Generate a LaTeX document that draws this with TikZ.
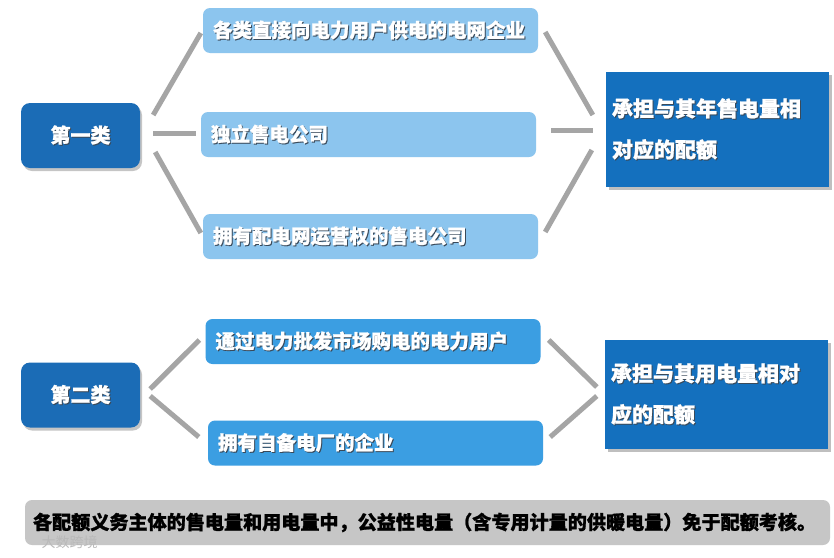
\documentclass[tikz,border=0pt]{standalone}
\usepackage{fontspec}
\setmainfont{Noto Sans CJK SC}[BoldFeatures={FakeBold=1.2}]
\usetikzlibrary{shadows}
\definecolor{darkbox}{HTML}{1B6CB6}
\definecolor{rightbox}{HTML}{1470BE}
\definecolor{lightbox}{HTML}{8CC5EE}
\definecolor{midbox}{HTML}{3B9EE2}
\definecolor{conn}{HTML}{A5A5A5}
\definecolor{barc}{HTML}{C6C6C6}
\definecolor{halo}{HTML}{3A4A5A}
\newcommand{\sht}[1]{\makebox[0pt][l]{\raisebox{-1pt}{\hspace{1pt}\textcolor{halo}{#1}}}\textcolor{white}{#1}}
\tikzset{
  catbox/.style={fill=darkbox, rounded corners=9pt, minimum width=119pt, minimum height=65pt,
    drop shadow={shadow xshift=2pt, shadow yshift=-3pt, opacity=0.45}, font=\fontsize{20}{24}\selectfont\bfseries},
  itembox/.style={rounded corners=7pt, minimum width=335pt, minimum height=45pt, text width=315pt,
    inner xsep=10pt, align=left, font=\fontsize{19.5}{24}\selectfont\bfseries},
  resbox/.style={fill=rightbox, minimum width=223pt, minimum height=115pt, text width=211pt,
    inner xsep=6pt, align=left, drop shadow={shadow xshift=3pt, shadow yshift=-3pt, opacity=0.5},
    font=\fontsize{21}{41}\selectfont\bfseries},
  link/.style={draw=conn, line width=5pt},
}
\begin{document}
\begin{tikzpicture}[x=1pt,y=-1pt]
\useasboundingbox[fill=white] (0,0) rectangle (834,557);
% first group
\node[catbox] (c1) at (80.5,135.5) {\sht{第一类}};
\node[itembox, fill=lightbox] (a1) at (370.5,30.5) {\sht{各类直接向电力用户供电的电网企业}};
\node[itembox, fill=lightbox] (a2) at (368.5,134.5) {\sht{独立售电公司}};
\node[itembox, fill=lightbox] (a3) at (370.5,236.5) {\sht{拥有配电网运营权的售电公司}};
\node[resbox] (r1) at (717.5,129.5) {\sht{承担与其年售电量相}\\\sht{对应的配额}};
\draw[link] ([shift={(13,-20.5)}]c1.east) -- ([shift={(-2,2.5)}]a1.west);
\draw[link] ([shift={(13,-2.5)}]c1.east) -- ([shift={(-5,-1.5)}]a2.west);
\draw[link] ([shift={(15,16.5)}]c1.east) -- ([shift={(-2,-3.5)}]a3.west);
\draw[link] ([shift={(7,1.5)}]a1.east) -- ([shift={(-13,-14.5)}]r1.west);
\draw[link] ([shift={(15,-4.5)}]a2.east) -- ([shift={(-13,0.5)}]r1.west);
\draw[link] ([shift={(7,-4.5)}]a3.east) -- ([shift={(-14,20.5)}]r1.west);
% second group
\node[catbox] (c2) at (80.5,395) {\sht{第二类}};
\node[itembox, fill=midbox] (b1) at (373,341.5) {\sht{通过电力批发市场购电的电力用户}};
\node[itembox, fill=midbox] (b2) at (375.5,443) {\sht{拥有自备电厂的企业}};
\node[resbox, minimum width=221pt, minimum height=109pt] (r2) at (716.5,394.5) {\sht{承担与其用电量相对}\\\sht{应的配额}};
\draw[link] ([shift={(10,-6)}]c2.east) -- ([shift={(-6,-1.5)}]b1.west);
\draw[link] ([shift={(10,1)}]c2.east) -- ([shift={(-9,-6)}]b2.west);
\draw[link] ([shift={(8,-1.5)}]b1.east) -- ([shift={(-8,-7.5)}]r2.west);
\draw[link] ([shift={(7,-6)}]b2.east) -- ([shift={(-8,1.5)}]r2.west);
% bottom bar
\node[fill=barc, rounded corners=7pt, minimum width=805pt, minimum height=45pt, text width=789pt,
  inner xsep=8pt, align=left, font=\fontsize{19.1}{24}\selectfont\bfseries] (bar) at (427.5,522.5)
  {各配额义务主体的售电量和用电量中，公益性电量（含专用计量的供暖电量）免于配额考核。};
% watermark
\node[text=gray!55, font=\fontsize{14}{16}\selectfont, anchor=west] (wm) at (38,542) {大数跨境};
\end{tikzpicture}
\end{document}
